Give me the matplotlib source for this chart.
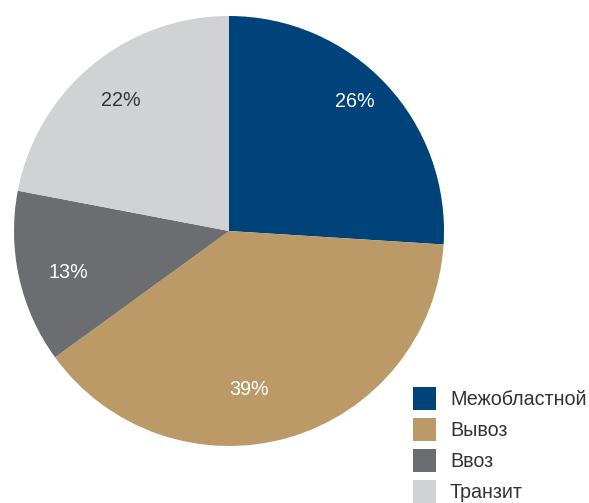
import numpy as np
import matplotlib.pyplot as plt

plt.rcParams['font.family'] = ['Liberation Sans', 'DejaVu Sans']

labels = ['Межобластной', 'Вывоз', 'Ввоз', 'Транзит']
values = [26, 39, 13, 22]
colors = ['#00437a', '#bb9a68', '#6c6d71', '#d1d2d4']
pct_colors = ['white', 'white', 'white', '#333333']

# label placement tweaks (fraction of radius, angle shift in degrees)
label_r = [0.84, 0.745, 0.77, 0.79]
label_shift = [2.7, -9, 2, 0]

fig = plt.figure(figsize=(5.89, 5.03), dpi=100)
ax = fig.add_axes([14 / 589, 57 / 503, 430 / 589, 430 / 503])

wedges, texts, autotexts = ax.pie(values, colors=colors, startangle=90, counterclock=False,
                                  autopct='%d%%', pctdistance=0.8,
                                  textprops={'fontsize': 14.2})
for w, t, c, r, s in zip(wedges, autotexts, pct_colors, label_r, label_shift):
    ang = np.deg2rad((w.theta1 + w.theta2) / 2 + s)
    t.set_position((r * np.cos(ang), r * np.sin(ang)))
    t.set_color(c)
ax.set_xlim(-1, 1)
ax.set_ylim(-1, 1)
ax.set_aspect('equal')

fig.legend(wedges, labels, loc='lower left', bbox_to_anchor=(413 / 589, 0),
           frameon=False, fontsize=14.2, handlelength=1.17, handleheight=1.42,
           handletextpad=0.7, labelspacing=0.4, borderpad=0, borderaxespad=0,
           labelcolor='#333333')

fig.savefig('out.png', dpi=100)
